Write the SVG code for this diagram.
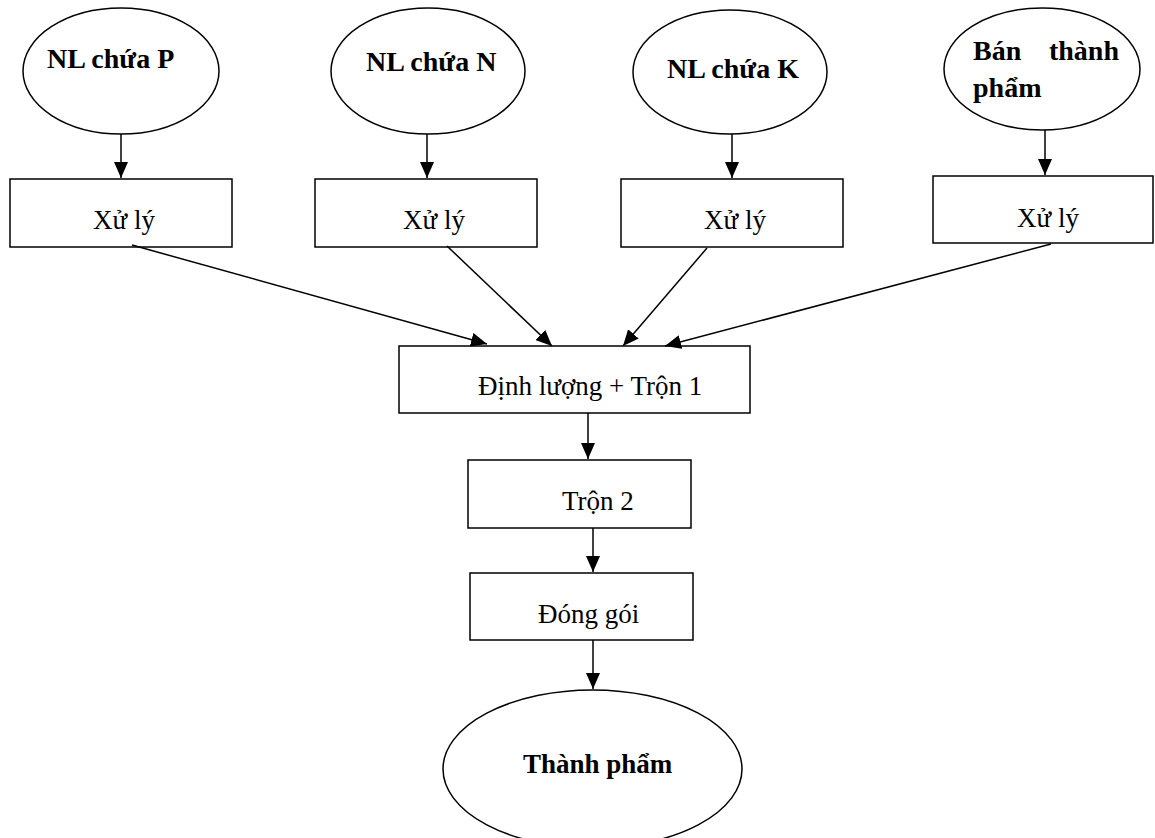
<svg xmlns="http://www.w3.org/2000/svg" width="1155" height="838" viewBox="0 0 1155 838">
<style>
.shape{fill:#fff;stroke:#000;stroke-width:1.5}
.lbl{font-family:"Liberation Serif","Times New Roman",serif;font-size:27px;fill:#000}
.b{font-weight:bold;font-size:28px}
.con line{stroke:#000;stroke-width:1.5;marker-end:url(#ah)}
</style>
<defs>
<marker id="ah" markerUnits="userSpaceOnUse" markerWidth="16" markerHeight="14" refX="16" refY="7" orient="auto">
<path d="M0,0 L16,7 L0,14 z" fill="#000"/>
</marker>
</defs>
<rect width="1155" height="838" fill="#fff"/>
<g id="nlP"><ellipse class="shape" cx="121" cy="71" rx="98" ry="63"/><text class="lbl b" x="47" y="68">NL chứa P</text></g>
<g id="nlN"><ellipse class="shape" cx="428" cy="71" rx="97" ry="63"/><text class="lbl b" x="366" y="71">NL chứa N</text></g>
<g id="nlK"><ellipse class="shape" cx="730" cy="72" rx="97" ry="62"/><text class="lbl b" x="667" y="78">NL chứa K</text></g>
<g id="btp"><ellipse class="shape" cx="1042" cy="69" rx="98" ry="61"/><text class="lbl b" x="973" y="60">Bán</text><text class="lbl b" x="1119" y="60" text-anchor="end">thành</text><text class="lbl b" x="973" y="97">phẩm</text></g>
<g id="xl1"><rect class="shape" x="10" y="179" width="222" height="68"/><text class="lbl" x="93" y="229">Xử lý</text></g>
<g id="xl2"><rect class="shape" x="315" y="179" width="222" height="68"/><text class="lbl" x="403" y="229">Xử lý</text></g>
<g id="xl3"><rect class="shape" x="621" y="179" width="222" height="68"/><text class="lbl" x="704" y="229">Xử lý</text></g>
<g id="xl4"><rect class="shape" x="933" y="176" width="220" height="67"/><text class="lbl" x="1017" y="227">Xử lý</text></g>
<g id="tron1"><rect class="shape" x="399" y="346" width="351" height="67"/><text class="lbl" x="478" y="395">Định lượng + Trộn 1</text></g>
<g id="tron2"><rect class="shape" x="468" y="460" width="223" height="68"/><text class="lbl" x="562" y="510">Trộn 2</text></g>
<g id="donggoi"><rect class="shape" x="470" y="573" width="223" height="67"/><text class="lbl" x="538" y="623">Đóng gói</text></g>
<g id="thanhpham"><ellipse class="shape" cx="592.5" cy="769" rx="149.5" ry="79"/><text class="lbl b" x="523" y="773" style="font-size:27px">Thành phẩm</text></g>
<g class="con" id="connectors">
<line x1="121" y1="134" x2="121" y2="178"/>
<line x1="427" y1="134" x2="427" y2="178"/>
<line x1="732" y1="134" x2="732" y2="178"/>
<line x1="1045" y1="130" x2="1045" y2="175"/>
<line x1="132" y1="245" x2="487" y2="344"/>
<line x1="447" y1="246" x2="552" y2="346"/>
<line x1="707" y1="248" x2="623" y2="346"/>
<line x1="1051" y1="244" x2="665" y2="346"/>
<line x1="588" y1="413" x2="588" y2="459"/>
<line x1="593" y1="528" x2="593" y2="572"/>
<line x1="593" y1="640" x2="593" y2="689"/>
</g>
</svg>
